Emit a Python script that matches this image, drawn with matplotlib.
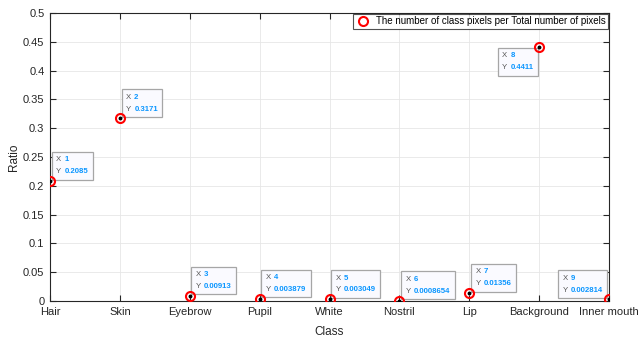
import numpy as np
import matplotlib
matplotlib.use("Agg")
import matplotlib.pyplot as plt
from matplotlib.offsetbox import TextArea, HPacker, VPacker, AnnotationBbox

classes = ["Hair", "Skin", "Eyebrow", "Pupil", "White", "Nostril", "Lip",
           "Background", "Inner mouth"]
ratio = [0.2085, 0.3171, 0.00913, 0.003879, 0.003049, 0.0008654, 0.01356,
         0.4411, 0.002814]
ratio_txt = ["0.2085", "0.3171", "0.00913", "0.003879", "0.003049",
             "0.0008654", "0.01356", "0.4411", "0.002814"]
# which side of the point each data tip sits on
tip_side = ["ur", "ur", "ur", "ur", "ur", "ur", "ur", "ll", "ul"]

x = np.arange(1, len(classes) + 1)
dark = "#262626"

plt.rcParams["font.family"] = ["Liberation Sans", "DejaVu Sans"]
fig = plt.figure(figsize=(6.38, 3.37), dpi=100)
ax = fig.add_axes([50/638, 1-301/337, 559/638, 288/337])

ax.plot(x, ratio, linestyle="none", marker="o", markersize=6.5,
        markerfacecolor="none", markeredgecolor="red", markeredgewidth=1.5,
        label="The number of class pixels per Total number of pixels",
        zorder=6)
ax.plot(x, ratio, linestyle="none", marker="o", markersize=1.8,
        color="black", zorder=7)

ax.set_xlim(1, len(classes))
ax.set_ylim(0, 0.5)
ax.set_xticks(x)
ax.set_xticklabels(classes)
yt = np.arange(0, 0.51, 0.05)
ax.set_yticks(yt)
ax.set_yticklabels(["0"] + ["%g" % v for v in yt[1:]])
ax.tick_params(direction="in", length=4, width=0.8, colors=dark,
               labelsize=8, top=True, right=True, pad=4)
for s in ax.spines.values():
    s.set_color(dark)
    s.set_linewidth(0.8)
ax.grid(True, color="#e6e6e6", linewidth=0.6)
ax.set_axisbelow(True)
ax.set_xlabel("Class", fontsize=8.5, color=dark, labelpad=7)
ax.set_ylabel("Ratio", fontsize=8.5, color=dark, labelpad=2)

leg = ax.legend(loc="upper right", fontsize=7, frameon=True, fancybox=False,
                borderpad=0.25, handletextpad=0.5, handlelength=1.6,
                borderaxespad=0.1)
leg.get_frame().set_edgecolor(dark)
leg.get_frame().set_linewidth(0.8)

# MATLAB-style data tips
align = {"ur": ((0, 0), (1.2, 1.0)),
         "ll": ((1, 1), (-0.8, -0.8)),
         "ul": ((1, 0), (-1.2, 1.0))}
lab = dict(color="#555555", fontsize=5.6)
val = dict(color="#0a96ff", fontsize=5.6, fontweight="bold")
for i in range(len(classes)):
    row1 = HPacker(children=[TextArea("X", textprops=lab),
                             TextArea(str(x[i]), textprops=val)],
                   pad=0, sep=2.2)
    row2 = HPacker(children=[TextArea("Y", textprops=lab),
                             TextArea(ratio_txt[i], textprops=val)],
                   pad=0, sep=2.2)
    box = VPacker(children=[row1, row2], pad=3.2, sep=3.5, align="left")
    ba, off = align[tip_side[i]]
    ab = AnnotationBbox(box, (x[i], ratio[i]), xybox=off,
                        xycoords="data", boxcoords="offset points",
                        box_alignment=ba, frameon=True, pad=0,
                        annotation_clip=False,
                        bboxprops=dict(edgecolor="#a6a6a6", facecolor="#fafaff",
                                       linewidth=0.9, boxstyle="square,pad=0"))
    ab.set_zorder(5)
    ax.add_artist(ab)

fig.savefig("out.png", dpi=100)
